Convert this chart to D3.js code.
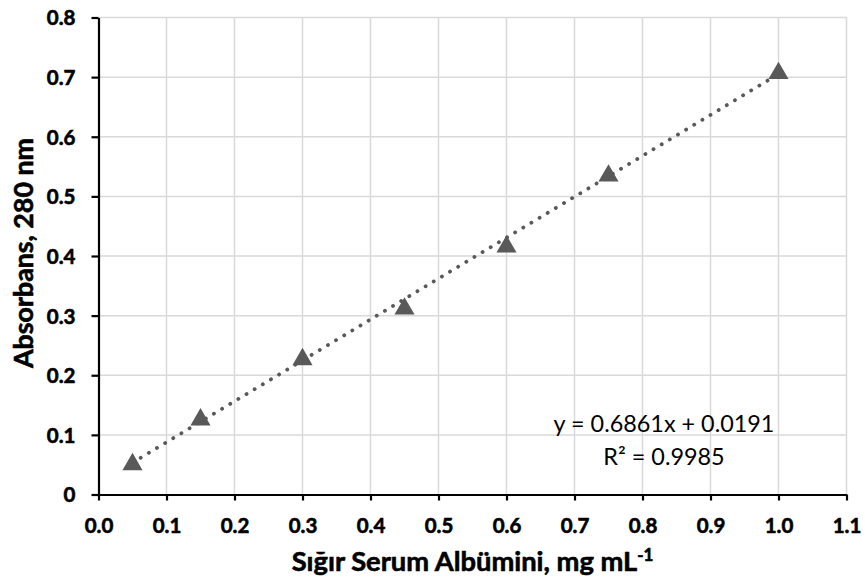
<!DOCTYPE html>
<html><head><meta charset="utf-8">
<script src="https://cdn.jsdelivr.net/npm/d3@7"></script>
<style>body{margin:0;background:#fff}svg{display:block}text{font-family:Lato,"Open Sans",sans-serif}</style>
</head><body>
<svg id="c" width="865" height="581"></svg>
<script>
const xValues = [0.05, 0.15, 0.30, 0.45, 0.60, 0.75, 1.00];
const yValues = [0.053, 0.128, 0.229, 0.314, 0.418, 0.537, 0.709];
const xTicks = [0.0,0.1,0.2,0.3,0.4,0.5,0.6,0.7,0.8,0.9,1.0,1.1];
const yTicks = [0,0.1,0.2,0.3,0.4,0.5,0.6,0.7,0.8];
const slope = 0.6861, intercept = 0.0191, r2 = 0.9985;
const xTitle = "Sığır Serum Albümini, mg mL";
const xTitleSup = "-1";
const yTitle = "Absorbans, 280 nm";

const svg = d3.select("#c");
const x = d3.scaleLinear().domain([0,1.1]).range([98.5,846.5]);
const y = d3.scaleLinear().domain([0,0.8]).range([494.5,17.5]);
const col = "#595959";

function fit(sel, target){
  const s0 = parseFloat(sel.style("font-size"));
  const w = sel.node().getComputedTextLength();
  sel.style("font-size", (s0*target/w)+"px");
}

// gridlines
svg.append("g").selectAll("line").data(xTicks.slice(1)).join("line")
  .attr("x1",d=>x(d)).attr("x2",d=>x(d)).attr("y1",y(0)).attr("y2",y(0.8))
  .attr("stroke","#d9d9d9").attr("stroke-width",1.5);
svg.append("g").selectAll("line").data(yTicks.slice(1)).join("line")
  .attr("x1",x(0)).attr("x2",x(1.1)).attr("y1",d=>y(d)).attr("y2",d=>y(d))
  .attr("stroke","#d9d9d9").attr("stroke-width",1.5);

// axes
const xa = svg.append("g").attr("transform",`translate(0,${y(0)})`)
  .call(d3.axisBottom(x).tickValues(xTicks).tickFormat(d3.format(".1f")).tickSize(6).tickSizeOuter(0));
const ya = svg.append("g").attr("transform",`translate(${x(0)},0)`)
  .call(d3.axisLeft(y).tickValues(yTicks).tickFormat(d=>d===0?"0":d3.format(".1f")(d)).tickSize(7).tickSizeOuter(0));
[xa,ya].forEach(a=>{
  a.attr("font-family",null).attr("font-size",null);
  a.select(".domain").attr("stroke","#000").attr("stroke-width",2.2);
  a.selectAll(".tick line").attr("stroke","#000").attr("stroke-width",2.2);
  a.selectAll(".tick text").attr("fill","#000").attr("stroke","#000").attr("stroke-width",0.6)
   .style("font-size","20.5px").style("font-weight","700").style("font-family","Lato, sans-serif");
});
xa.selectAll(".tick text").attr("dy",0).attr("y",38.5);
ya.selectAll(".tick text").attr("x",-23).attr("dy","0.36em");

// trendline
const xr = d3.extent(xValues);
svg.append("line")
  .attr("x1",x(xr[0])).attr("y1",y(slope*xr[0]+intercept))
  .attr("x2",x(xr[1])).attr("y2",y(slope*xr[1]+intercept))
  .attr("stroke",col).attr("stroke-width",3.8).attr("stroke-linecap","round")
  .attr("stroke-dasharray","0.1 9.4");

// markers
const tri = d3.symbol().type(d3.symbolTriangle).size(175);
svg.append("g").selectAll("path").data(xValues).join("path")
  .attr("d",tri).attr("fill",col)
  .attr("transform",(d,i)=>`translate(${x(d)},${y(yValues[i])+1.5})`);

// equation
const eq = svg.append("text").attr("x",664).attr("y",432).attr("text-anchor","middle")
  .style("font-size","20px").attr("fill","#000").text(`y = ${slope}x + ${intercept}`);
fit(eq, 221);
svg.append("text").attr("x",664).attr("y",465).attr("text-anchor","middle")
  .style("font-size",eq.style("font-size")).attr("fill","#000").text(`R² = ${r2}`);

// axis titles
const xt = svg.append("text").attr("x",(x(0)+x(1.1))/2).attr("y",571).attr("text-anchor","middle")
  .style("font-size","20px").style("font-weight","700").attr("fill","#000").attr("stroke","#000").attr("stroke-width",0.6);
xt.append("tspan").text(xTitle);
xt.append("tspan").attr("dy",-10).style("font-size","0.62em").text(xTitleSup);
fit(xt, 362);
const yt = svg.append("text").attr("transform",`translate(33,253) rotate(-90)`).attr("text-anchor","middle")
  .style("font-size","20px").style("font-weight","700").attr("fill","#000").attr("stroke","#000").attr("stroke-width",0.6)
  .text(yTitle);
fit(yt, 230);
</script>
</body></html>
